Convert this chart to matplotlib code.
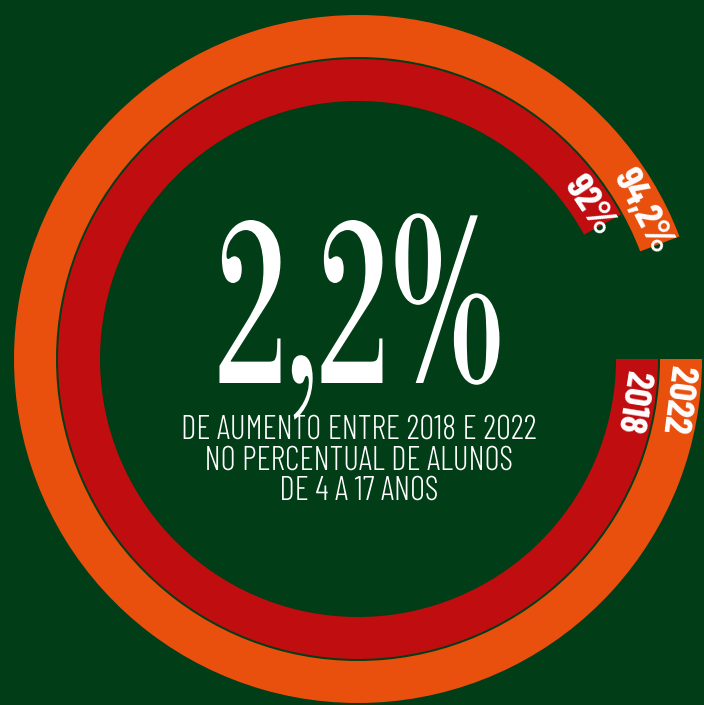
import numpy as np
import matplotlib
matplotlib.use("Agg")
import matplotlib.pyplot as plt
from matplotlib.patheffects import AbstractPathEffect
from matplotlib.transforms import Affine2D
from matplotlib.textpath import TextPath
from matplotlib.font_manager import FontProperties

# data
years = ["2018", "2022"]
shares = [92.0, 94.2]
share_labels = ["92%", "94,2%"]
headline = "2,2%"
caption = ["DE AUMENTO ENTRE 2018 E 2022",
           "NO PERCENTUAL DE ALUNOS",
           "DE 4 A 17 ANOS"]

bg = "#013d16"
ring_colors = ["#bf0d10", "#e9500e"]
PX = 100 / 72  # px per point


class Stretch(AbstractPathEffect):
    """rescale glyphs around the centre of each line / its baseline"""
    def __init__(self, sx, sy=1.0):
        super().__init__()
        self.sx = sx
        self.sy = sy

    def draw_path(self, renderer, gc, tpath, affine, rgbFace=None):
        ext = tpath.get_extents()
        cx = (ext.x0 + ext.x1) / 2
        st = Affine2D().translate(-cx, 0).scale(self.sx, self.sy).translate(cx, 0)
        renderer.draw_path(gc, tpath, st + affine, rgbFace)


def ink(s, fp):
    # glyph extents in em units
    return TextPath((0, 0), s, size=1, prop=fp).get_extents()


W, H = 704, 705
fig = plt.figure(figsize=(W / 100, H / 100), dpi=100, facecolor=bg)
ax = fig.add_axes([0, 0, 1, 1])
ax.set_facecolor(bg)

cx, cy = 358, H - 359
radii = [300, 344]
width = 42

for share, r, col in zip(shares, radii, ring_colors):
    ax.pie([share, 100 - share], radius=r, center=(cx, cy), startangle=0,
           counterclock=False, colors=[col, "none"],
           wedgeprops=dict(width=width, linewidth=0))

# labels at the end of each arc and at the start
lab_font = "Barlow Condensed"
fp_l = FontProperties(family=lab_font, weight="bold")
fs_l = 60 / (ink("2018", fp_l).width * PX)
end_offsets = [4.7, 6.6]
start_offsets = [-9.0, -7.3]
for share, lab, yr, r, eo, so in zip(shares, share_labels, years, radii,
                                     end_offsets, start_offsets):
    rm = r - width / 2 - 2
    a_end = 360 - share * 3.6 + eo
    t = np.deg2rad(a_end)
    ax.text(cx + rm * np.cos(t), cy + rm * np.sin(t), lab, color="white",
            fontsize=fs_l, family=lab_font, fontweight="bold",
            rotation=a_end - 90, rotation_mode="anchor",
            ha="center", va="center")
    t = np.deg2rad(so)
    ax.text(cx + rm * np.cos(t), cy + rm * np.sin(t), yr, color="white",
            fontsize=fs_l, family=lab_font, fontweight="bold",
            rotation=so - 90, rotation_mode="anchor",
            ha="center", va="center")

# big number, didone squeezed into the reference box
big_font = "Libre Bodoni"
fp_h = FontProperties(family=big_font)
fs_h = 0.6 * 280 / (ink(headline, fp_h).width * PX)
sx_h = 280 / (ink(headline, fp_h).width * fs_h * PX)
sy_h = 163 / (ink("2", fp_h).y1 * fs_h * PX)
ax.text(360, H - 383, headline, color="white", fontsize=fs_h,
        family=big_font, ha="center", va="baseline",
        path_effects=[Stretch(sx_h, sy_h)])

# caption
cap_font = "Barlow Condensed"
fp_c = FontProperties(family=cap_font, weight=300)
fs_c = 24 / (ink("E", fp_c).y1 * PX)
sx_c = 352 / (ink(caption[0], fp_c).width * fs_c * PX)
baselines = [439, 470, 500]
for line, yb in zip(caption, baselines):
    ax.text(359, H - yb, line, color="white", fontsize=fs_c,
            family=cap_font, fontweight=300, ha="center", va="baseline",
            path_effects=[Stretch(sx_c)])

ax.set_xlim(0, W)
ax.set_ylim(0, H)
ax.set_aspect("equal")
ax.set_axis_off()

fig.savefig("out.png", dpi=100, facecolor=bg)
